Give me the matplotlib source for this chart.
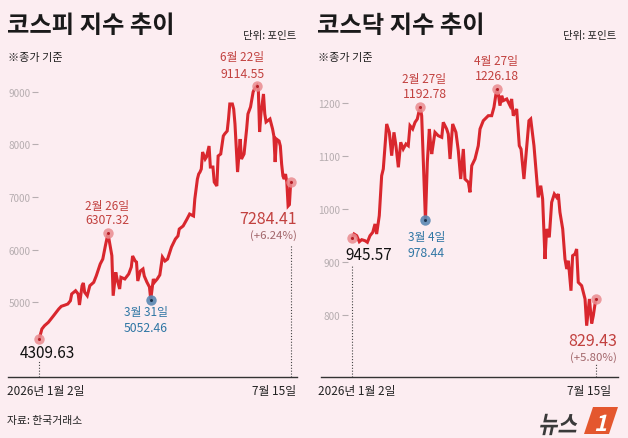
import matplotlib
matplotlib.use("Agg")
import matplotlib.pyplot as plt
from matplotlib.patches import Polygon, PathPatch
from matplotlib.textpath import TextPath
from matplotlib.font_manager import FontProperties
from matplotlib.transforms import Affine2D

plt.rcParams['font.family'] = ['Noto Sans CJK KR', 'DejaVu Sans']

# ---------------- data ----------------
kospi_day = [0, 2, 4, 7, 11, 15, 17, 20, 22, 24, 25, 28, 30, 31, 33, 34, 35, 37, 39, 42,
             44, 47, 49, 51, 53, 56, 57, 59, 60, 62, 63, 66, 69, 71, 72, 74, 75, 76, 78, 80,
             81, 83, 85, 86, 88, 89, 91, 93, 95, 97, 99, 102, 105, 107, 108, 111, 114, 116, 119, 120,
             122, 123, 124, 125, 126, 128, 129, 131, 132, 134, 135, 137, 138, 140, 142, 143, 145, 146, 147, 149,
             150, 151, 153, 155, 156, 158, 160, 161, 163, 165, 166, 168, 169, 170, 171, 173, 174, 175, 176, 178,
             180, 181, 182, 183, 185, 186, 187, 188, 189, 190, 191, 192, 193, 194]
kospi_val = [4309.63, 4493, 4555, 4620, 4745, 4873, 4924, 4949, 4968, 5030, 5158, 5220, 5158, 4949, 5315, 5367, 5190, 5125, 5315, 5380,
             5505, 5727, 5822, 6075, 6307.32, 5885, 5125, 5570, 5443, 5253, 5475, 5443, 5538, 5670, 5880, 5785, 5765, 5405, 5595, 5633,
             5500, 5385, 5290, 5052.46, 5443, 5385, 5443, 5520, 5860, 5785, 5822, 6050, 6202, 6260, 6392, 6450, 6582, 6677, 6640, 6962,
             7342, 7437, 7475, 7532, 7855, 7722, 7760, 7969, 7570, 7570, 7285, 7210, 7780, 7818, 8160, 8198, 8255, 8483, 8768, 8768,
             8673, 8388, 7475, 8102, 7722, 7818, 8293, 8578, 8711, 8996, 9053, 9114.55, 9053, 8236, 8578, 8958, 8578, 8426, 8445, 8483,
             8293, 8160, 7665, 8102, 8065, 7969, 7627, 7399, 7342, 7437, 7285, 6829, 6856, 7284.41]

kosdaq_day = [0, 1.4, 3.5, 5.6, 7.5, 10.1, 12, 14.1, 16.3, 18.1, 19.4, 21.5, 23.4, 24.7, 26.1, 27.4, 29.5, 31.4, 33.2, 34.8,
              36.7, 38.6, 40.6, 42.8, 44.6, 46, 48.1, 50, 51.8, 54, 55.3, 58.3, 59.8, 61.4, 62.5, 63.3, 65.9, 68.5, 71.3, 72.5,
              75.2, 76.5, 77.9, 80, 82.6, 84.5, 86.4, 88.5, 89.8, 92.5, 93.8, 95.2, 97.8, 100.4, 101.8, 104.4, 108.4, 111.1, 112.9, 115.1,
              116.4, 117.7, 119.1, 120.3, 123.1, 125.7, 127, 128.3, 131, 133.1, 134.5, 136.8, 140.8, 142.2, 144.8, 147, 148.2, 150.2, 151.7, 153.6,
              154.9, 157, 158.9, 161, 162.9, 164.2, 165.5, 167.7, 169.5, 170.9, 172.2, 174.3, 175.6, 177.5, 178.8, 180.1, 182.8, 185.5, 186.8, 189,
              190.8, 192.1, 194]
kosdaq_val = [945.57, 952.8, 949.6, 938.3, 942.1, 940.2, 937.2, 949.6, 956, 971.7, 952.8, 987.4, 1062.8, 1075.5, 1119.4, 1160.4, 1144.7, 1100.6, 1144.7, 1119.4,
              1078.7, 1125.9, 1113.2, 1122.7, 1119.4, 1157.2, 1151, 1163.6, 1169.8, 1192.78, 1176, 978.44, 1088.1, 1151, 1119.4, 1103.8, 1144.7, 1138.3, 1135.3, 1163.6,
              1151, 1141.5, 1094.4, 1160.4, 1144.7, 1110, 1056.6, 1113.2, 1056.6, 1050.4, 1031.5, 1081.7, 1094.4, 1119.4, 1151, 1166.6, 1176.1, 1176.1, 1191.9, 1226.18,
              1217, 1195, 1213.8, 1204.4, 1207.6, 1195, 1207.6, 1176, 1188.7, 1119.4, 1113, 1056.6, 1166.6, 1169.8, 1119.4, 1056.6, 1022, 1044, 1018.9, 905.7,
              962.3, 946.6, 1012.6, 1028.3, 1022.1, 1028.3, 993.8, 962.3, 905.7, 886.8, 902.4, 845.8, 911.9, 915.1, 924.5, 861.7, 855.3, 830.2, 779.8, 830.2,
              784, 798.7, 829.43]

kospi_ticks = [5000, 6000, 7000, 8000, 9000]
kosdaq_ticks = [800, 900, 1000, 1100, 1200]

# highlighted points: (index into series, label date, label value)
kospi_hi = [(24, '2월 26일', '6307.32'), (91, '6월 22일', '9114.55')]
kospi_lo = [(43, '3월 31일', '5052.46')]
kosdaq_hi = [(29, '2월 27일', '1192.78'), (59, '4월 27일', '1226.18')]
kosdaq_lo = [(31, '3월 4일', '978.44')]

start_label = ['2026년 1월 2일', '2026년 1월 2일']
end_label = ['7월 15일', '7월 15일']
titles = ['코스피 지수 추이', '코스닥 지수 추이']
kospi_end_chg = '(+6.24%)'
kosdaq_end_chg = '(+5.80%)'

# ---------------- style ----------------
W, H = 628, 439
BG = '#fcedf1'
RED = '#d9272e'
TRED = '#c2413f'
BLUE = '#2f76a4'
PINK = '#ea8c90'
MBLUE = '#5a88b3'
GRAY = '#b7aeb1'

fig = plt.figure(figsize=(W / 100, H / 100), dpi=100, facecolor=BG)


def fx(x):
    return x / W


def fy(y):
    return 1 - y / H


def ptext(x, y, s, **kw):
    fig.text(fx(x), fy(y), s, **kw)


TOP, BOT = 45.0, 377.7


def make_axes(left_px, right_px, x0_px, x1_px, ref_px, ref_val, per_px, spine_px):
    ax = fig.add_axes([fx(left_px), fy(BOT), (right_px - left_px) / W, (BOT - TOP) / H])
    ax.set_facecolor('none')
    dpp = 194.0 / (x1_px - x0_px)
    ax.set_xlim((left_px - x0_px) * dpp, 194 + (right_px - x1_px) * dpp)
    ax.set_ylim(ref_val - (BOT - ref_px) * per_px, ref_val + (ref_px - TOP) * per_px)
    for s in ['top', 'right']:
        ax.spines[s].set_visible(False)
    ax.spines['left'].set_visible(False)
    ax.spines['left'].set_position(('data', (spine_px - x0_px) * dpp))
    ax.spines['bottom'].set_color('#333333')
    ax.spines['bottom'].set_linewidth(1.0)
    ax.set_xticks([])
    ax.tick_params(axis='y', length=4, width=0.8, color=GRAY, labelcolor=GRAY,
                   labelsize=7.2, pad=1.5)
    return ax


axL = make_axes(8, 297, 39.3, 290.7, 303.3, 5000, 19.0, 38)
axR = make_axes(321, 618, 352.3, 595.7, 210.0, 1000, 1.887, 348)

axL.set_yticks(kospi_ticks)
axL.set_yticklabels([str(t) for t in kospi_ticks])
axR.set_yticks(kosdaq_ticks)
axR.set_yticklabels([str(t) for t in kosdaq_ticks])

for ax, d, v in [(axL, kospi_day, kospi_val), (axR, kosdaq_day, kosdaq_val)]:
    ax.plot(d, v, color=RED, lw=2.2, solid_joinstyle='miter', zorder=3)

# markers
for ax, d, v, hi, lo in [(axL, kospi_day, kospi_val, kospi_hi, kospi_lo),
                         (axR, kosdaq_day, kosdaq_val, kosdaq_hi, kosdaq_lo)]:
    idx_pink = [0, len(d) - 1] + [h[0] for h in hi]
    ax.plot([d[i] for i in idx_pink], [v[i] for i in idx_pink], 'o', ms=7.5,
            color=PINK, alpha=0.85, mec='none', zorder=4)
    ax.plot([d[i] for i in idx_pink], [v[i] for i in idx_pink], 'o', ms=2.2,
            color='#b51f26', mec='none', zorder=5)
    ax.plot([d[i[0]] for i in lo], [v[i[0]] for i in lo], 'o', ms=7.5,
            color=MBLUE, alpha=0.9, mec='none', zorder=4)
    ax.plot([d[i[0]] for i in lo], [v[i[0]] for i in lo], 'o', ms=2.2,
            color='#1d3550', mec='none', zorder=5)


# dotted guide lines (axes-fraction heights)
def frac(ypx):
    return (BOT - ypx) / (BOT - TOP)


DOT = dict(color='#444', lw=0.8, ls=(0, (1, 1.6)))
axL.plot([kospi_day[0]] * 2, [0, frac(362)], transform=axL.get_xaxis_transform(), **DOT)
axL.plot([kospi_day[-1]] * 2, [0, frac(246)], transform=axL.get_xaxis_transform(), **DOT)
axR.plot([kosdaq_day[0]] * 2, [0, frac(266)], transform=axR.get_xaxis_transform(), **DOT)
axR.plot([kosdaq_day[-1]] * 2, [0, frac(365)], transform=axR.get_xaxis_transform(), **DOT)

# ---------------- texts ----------------
for x0, xr, t in [(7, 296, titles[0]), (317, 616, titles[1])]:
    ptext(x0, 26, t, fontsize=17.5, fontweight='bold', color='#1a1a1a', va='center', ha='left')
    ptext(xr, 35.5, '단위: 포인트', fontsize=7.5, color='#222', va='center', ha='right')
    ptext(x0 + 1, 57.5, '※종가 기준', fontsize=8, color='#222', va='center', ha='left')

# kospi annotations
ptext(107.5, 206.5, kospi_hi[0][1], fontsize=8.5, color=TRED, ha='center', va='center')
ptext(107.5, 220.5, kospi_hi[0][2], fontsize=8.8, color=TRED, ha='center', va='center')
ptext(242.5, 57.5, kospi_hi[1][1], fontsize=8.5, color=TRED, ha='center', va='center')
ptext(242.5, 74, kospi_hi[1][2], fontsize=8.8, color=TRED, ha='center', va='center')
ptext(146, 313, kospi_lo[0][1], fontsize=8.5, color=BLUE, ha='center', va='center')
ptext(146, 329, kospi_lo[0][2], fontsize=8.8, color=BLUE, ha='center', va='center')
ptext(47, 354, f'{kospi_val[0]:.2f}', fontsize=11, color='#111', ha='center', va='center')
ptext(297, 219.5, f'{kospi_val[-1]:.2f}', fontsize=11.5, color=TRED, ha='right', va='center')
ptext(297, 236, kospi_end_chg, fontsize=8.2, color='#a2666a', ha='right', va='center')

# kosdaq annotations
ptext(424.5, 80, kosdaq_hi[0][1], fontsize=8.5, color=TRED, ha='center', va='center')
ptext(424.5, 95, kosdaq_hi[0][2], fontsize=8.8, color=TRED, ha='center', va='center')
ptext(496.5, 61, kosdaq_hi[1][1], fontsize=8.5, color=TRED, ha='center', va='center')
ptext(496.5, 76.5, kosdaq_hi[1][2], fontsize=8.8, color=TRED, ha='center', va='center')
ptext(426.5, 238, kosdaq_lo[0][1], fontsize=8.5, color=BLUE, ha='center', va='center')
ptext(426.5, 253.5, kosdaq_lo[0][2], fontsize=8.8, color=BLUE, ha='center', va='center')
ptext(345, 256, f'{kosdaq_val[0]:.2f}', fontsize=11, color='#111', ha='left', va='center')
ptext(617, 341.5, f'{kosdaq_val[-1]:.2f}', fontsize=11.5, color=TRED, ha='right', va='center')
ptext(617, 358, kosdaq_end_chg, fontsize=8.2, color='#a2666a', ha='right', va='center')

# x labels
ptext(7, 392, start_label[0], fontsize=8.5, color='#222', ha='left', va='center')
ptext(296, 392, end_label[0], fontsize=8.5, color='#222', ha='right', va='center')
ptext(318, 392, start_label[1], fontsize=8.5, color='#222', ha='left', va='center')
ptext(611, 392, end_label[1], fontsize=8.5, color='#222', ha='right', va='center')

ptext(7, 421, '자료: 한국거래소', fontsize=7.8, color='#222', ha='left', va='center')

# news1 logo (slanted text + orange badge), drawn in pixel coordinates
fp = FontProperties(family='Noto Sans CJK KR', weight='bold')
tp = TextPath((0, 0), '뉴스', size=21, prop=fp)
logo_tr = Affine2D().scale(1.0, 1.15).skew_deg(12, 0).translate(538, H - 434)
fig.patches.append(PathPatch(tp, transform=logo_tr, facecolor='#3a3a3a', edgecolor='none'))
badge = Polygon([(fx(584), fy(435)), (fx(609), fy(435)), (fx(618), fy(408)), (fx(593), fy(408))],
                closed=True, transform=fig.transFigure, facecolor='#e4572e', edgecolor='none')
fig.patches.append(badge)
tp1 = TextPath((0, 0), '1', size=22, prop=fp)
one_tr = Affine2D().skew_deg(14, 0).translate(594, H - 432)
fig.patches.append(PathPatch(tp1, transform=one_tr, facecolor='white', edgecolor='none'))

fig.savefig('out.png', dpi=100, facecolor=BG)
